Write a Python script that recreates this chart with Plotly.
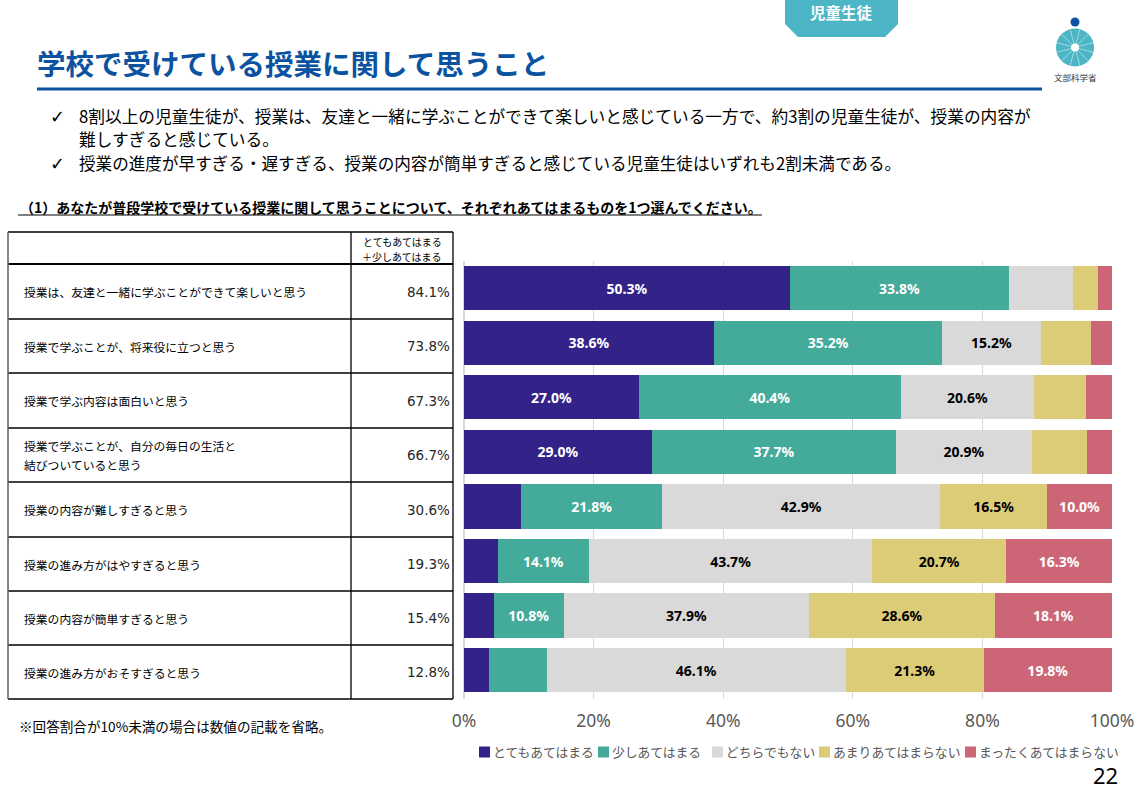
import math
import plotly.graph_objects as go

W = 1135
H = 790
JP = "Noto Sans CJK JP"

questions = [
    "授業は、友達と一緒に学ぶことができて楽しいと思う",
    "授業で学ぶことが、将来役に立つと思う",
    "授業で学ぶ内容は面白いと思う",
    "授業で学ぶことが、自分の毎日の生活と<br>結びついていると思う",
    "授業の内容が難しすぎると思う",
    "授業の進み方がはやすぎると思う",
    "授業の内容が簡単すぎると思う",
    "授業の進み方がおそすぎると思う",
]
agree_totals = ["84.1%", "73.8%", "67.3%", "66.7%", "30.6%", "19.3%", "15.4%", "12.8%"]

answers = ["とてもあてはまる", "少しあてはまる", "どちらでもない", "あまりあてはまらない", "まったくあてはまらない"]
very = [50.3, 38.6, 27.0, 29.0, 8.8, 5.2, 4.6, 3.9]
some = [33.8, 35.2, 40.4, 37.7, 21.8, 14.1, 10.8, 8.9]
neutral = [9.9, 15.2, 20.6, 20.9, 42.9, 43.7, 37.9, 46.1]
not_much = [3.8, 7.8, 8.0, 8.5, 16.5, 20.7, 28.6, 21.3]
not_at_all = [2.2, 3.2, 4.0, 3.9, 10.0, 16.3, 18.1, 19.8]

x_ticks = [0, 20, 40, 60, 80, 100]
x_tick_labels = ["0%", "20%", "40%", "60%", "80%", "100%"]

colors = ["#332288", "#44AA99", "#D9D9D9", "#DDCC77", "#CC6677"]
label_colors = ["white", "white", "black", "black", "white"]


# slide positions are easier to think about in pixels
def px(x):
    return x / W


def py(y):
    return 1 - y / H


def line(x0, y0, x1, y1, color="black", width=1.3):
    return dict(type="line", xref="paper", yref="paper", x0=px(x0), x1=px(x1), y0=py(y0), y1=py(y1),
                line=dict(color=color, width=width), layer="above")


def circle(cx, cy, r, color):
    return dict(type="circle", xref="paper", yref="paper", x0=px(cx - r), x1=px(cx + r), y0=py(cy - r),
                y1=py(cy + r), fillcolor=color, line=dict(width=0))


def text(x, y, s, size, color="black", bold=False, anchor="left", font=JP):
    return dict(text="<b>%s</b>" % s if bold else s, x=px(x), y=py(y), xref="paper", yref="paper",
                xanchor=anchor, yanchor="middle", align=anchor, showarrow=False,
                font=dict(family=font, size=size, color=color))


fig = go.Figure()

for name, values, color, label_color in zip(answers, [very, some, neutral, not_much, not_at_all], colors, label_colors):
    fig.add_trace(go.Bar(
        y=questions,
        x=values,
        name=name,
        orientation="h",
        marker=dict(color=color, line=dict(width=0)),
        text=["%.1f%%" % v if v >= 10 else "" for v in values],
        textposition="inside",
        insidetextanchor="middle",
        textangle=0,
        constraintext="none",
        textfont=dict(family="Noto Sans", size=14, color=label_color, weight="bold"),
        showlegend=False,
    ))

shapes = []
annotations = []

# header tag, title, rule
shapes.append(dict(type="path", xref="paper", yref="paper", line=dict(width=0), fillcolor="#4DB6C6",
                   path="M %f,%f L %f,%f L %f,%f L %f,%f L %f,%f L %f,%f Z" % (
                       px(785), py(0), px(898), py(0), px(898), py(24),
                       px(885), py(37), px(798), py(37), px(785), py(24))))
annotations.append(text(841, 12, "児童生徒", 15.5, "white", True, "center"))
annotations.append(text(35, 63, "学校で受けている授業に関して思うこと", 28.5, "#0B53A0", True))
shapes.append(line(37, 89, 1042, 89, "#0B53A0", 3))

# logo
shapes.append(circle(1075, 22, 4.5, "#0B53A0"))
shapes.append(circle(1075, 47.5, 19, "#4DB6C6"))
for i in range(12):
    a = math.radians(15 + 30 * i)
    shapes.append(line(1075, 47.5, 1075 + 19 * math.cos(a), 47.5 + 19 * math.sin(a), "#B5E1E8", 0.8))
shapes.append(circle(1075, 47.5, 4, "white"))
annotations.append(text(1075, 77, "文部科学省", 8.5, "#333333", False, "center"))

# bullets
annotations.append(text(48, 116, "✓", 18, font="DejaVu Sans"))
annotations.append(text(76.5, 116, "8割以上の児童生徒が、授業は、友達と一緒に学ぶことができて楽しいと感じている一方で、約3割の児童生徒が、授業の内容が", 16.7))
annotations.append(text(76.5, 139, "難しすぎると感じている。", 16.7))
annotations.append(text(48, 163, "✓", 18, font="DejaVu Sans"))
annotations.append(text(76.5, 163, "授業の進度が早すぎる・遅すぎる、授業の内容が簡単すぎると感じている児童生徒はいずれも2割未満である。", 16.6))

annotations.append(text(18, 206.5, "（1）あなたが普段学校で受けている授業に関して思うことについて、それぞれあてはまるものを1つ選んでください。", 14, bold=True))
shapes.append(line(18, 215, 762, 215, "black", 1.2))

# table grid on the left
row_lines = [264, 319, 373, 428, 482, 537, 591, 645, 699]
for y in [232] + row_lines[1:]:
    shapes.append(line(8, y, 453, y))
shapes.append(line(8, 264, 453, 264, "black", 2))
for x in [351, 453]:
    shapes.append(line(x, 232, x, 699))
shapes.append(line(8, 232, 8, 699, "#666666", 1.6))

annotations.append(text(402, 241, "とてもあてはまる", 10, anchor="center"))
annotations.append(text(402, 257, "＋少しあてはまる", 10, anchor="center"))

for i, (q, total) in enumerate(zip(questions, agree_totals)):
    cell_y = (row_lines[i] + row_lines[i + 1]) / 2
    cell_lines = q.split("<br>")
    for j, part in enumerate(cell_lines):
        # one annotation per line so the spacing follows the slide
        annotations.append(text(21.5, cell_y + (2 * j - len(cell_lines) + 1) * 9.5, part, 11.8))
    annotations.append(text(452, cell_y, total, 13.5, "#262626", anchor="right", font="DejaVu Sans"))

annotations.append(text(17, 726, "※回答割合が10%未満の場合は数値の記載を省略。", 13.6))

# legend, the native one can't sit this tight
legend_x = [479, 598, 712, 819, 965]
for x, name, color in zip(legend_x, answers, colors):
    shapes.append(dict(type="rect", xref="paper", yref="paper", x0=px(x), x1=px(x + 11), y0=py(746.5), y1=py(757.5),
                       fillcolor=color, line=dict(width=0)))
    annotations.append(text(x + 12, 751.5, name, 12.8, "#595959"))

annotations.append(text(1120, 775, "22", 22, anchor="right", font="Noto Sans"))

fig.update_layout(
    width=W,
    height=H,
    autosize=False,
    margin=dict(l=0, r=0, t=0, b=0),
    paper_bgcolor="white",
    plot_bgcolor="white",
    barmode="stack",
    bargap=0.19,
    shapes=shapes,
    annotations=annotations,
    xaxis=dict(
        domain=[px(464), px(1112)],
        range=[0, 100],
        automargin=False,
        tickvals=x_ticks,
        ticktext=x_tick_labels,
        tickfont=dict(family="Noto Sans", size=17.5, color="#595959"),
        ticks="",
        ticklabelstandoff=9,
        showgrid=True,
        gridcolor="#D9D9D9",
        gridwidth=1,
        zeroline=True,
        zerolinecolor="#D9D9D9",
        showline=False,
    ),
    yaxis=dict(
        domain=[py(699), py(261)],
        automargin=False,
        categoryorder="array",
        categoryarray=questions,
        range=[7.53, -0.5],
        showticklabels=False,
        ticks="",
        showgrid=False,
        zeroline=False,
    ),
)

fig.write_html("out.html", config=dict(displayModeBar=False), post_script="document.body.style.margin='0';")
